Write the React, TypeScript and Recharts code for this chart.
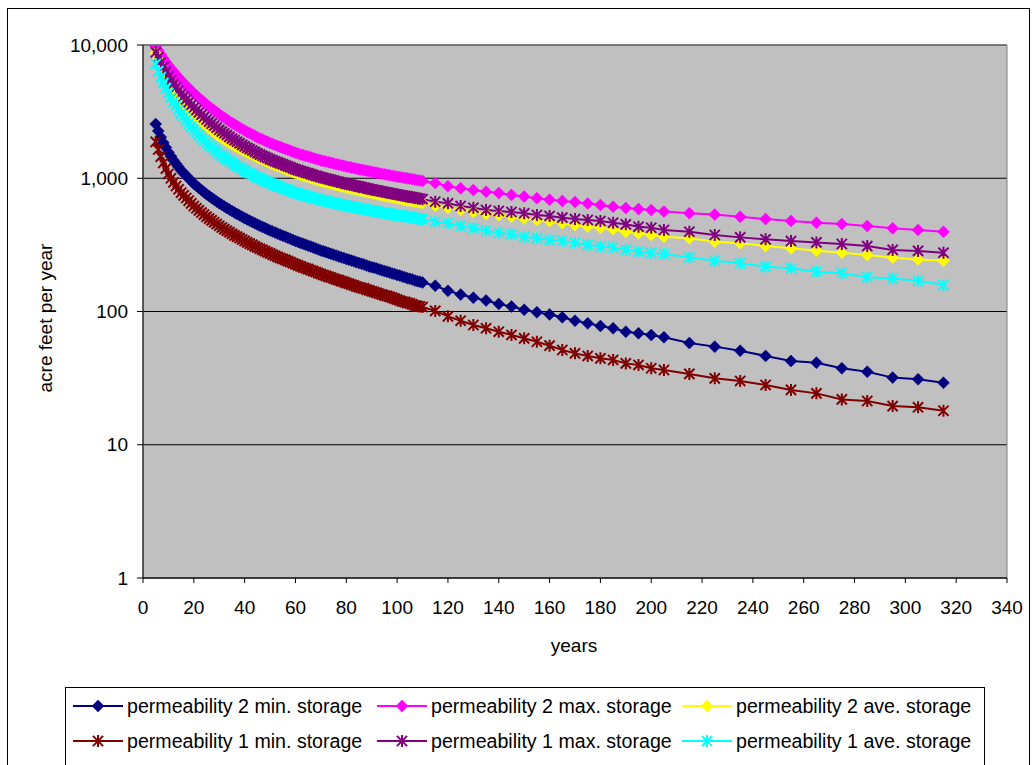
import React from 'react';
import { LineChart, Line, XAxis, YAxis, CartesianGrid, ReferenceArea } from 'recharts';

const FONT = '"Liberation Sans", Arial, sans-serif';

// years: yearly to 110, then every 5 to 205, then every 10
const years = [
  5, 6, 7, 8, 9, 10, 11, 12, 13, 14, 15, 16, 17, 18, 19, 20, 21, 22, 23, 24,
  25, 26, 27, 28, 29, 30, 31, 32, 33, 34, 35, 36, 37, 38, 39, 40, 41, 42, 43, 44,
  45, 46, 47, 48, 49, 50, 51, 52, 53, 54, 55, 56, 57, 58, 59, 60, 61, 62, 63, 64,
  65, 66, 67, 68, 69, 70, 71, 72, 73, 74, 75, 76, 77, 78, 79, 80, 81, 82, 83, 84,
  85, 86, 87, 88, 89, 90, 91, 92, 93, 94, 95, 96, 97, 98, 99, 100, 101, 102, 103, 104,
  105, 106, 107, 108, 109, 110,
  115, 120, 125, 130, 135, 140, 145, 150, 155, 160, 165, 170, 175, 180, 185, 190, 195, 200, 205,
  215, 225, 235, 245, 255, 265, 275, 285, 295, 305, 315,
];

const perm2Min = [
  2550, 2265, 2033, 1847, 1700, 1565, 1460, 1363, 1286, 1214,
  1145, 1094, 1045, 998, 953, 910, 877, 846, 815, 786,
  758, 735, 712, 691, 670, 649, 632, 615, 598, 583,
  567, 553, 540, 527, 514, 502, 491, 480, 470, 459,
  449, 440, 431, 423, 414, 406, 399, 391, 384, 377,
  370, 364, 357, 351, 344, 338, 333, 327, 322, 317,
  312, 307, 302, 297, 292, 287, 283, 279, 275, 271,
  267, 263, 259, 255, 252, 248, 245, 241, 238, 234,
  231, 228, 225, 221, 218, 215, 213, 210, 207, 204,
  201, 199, 196, 193, 191, 188, 186, 183, 181, 178,
  176, 174, 171, 169, 167, 165,
  156, 143, 134, 127, 121, 114, 109, 103, 98.6, 95, 90.4, 85.3, 81.5, 77.8, 74.8, 70.5, 68.6, 66.6, 64,
  58, 54.5, 50.8, 46.4, 42.5, 41.3, 37.5, 35.3, 31.9, 31, 29.2,
];

const perm2Max = [
  9800, 9100, 8490, 7940, 7470, 7030, 6660, 6310, 6000, 5700,
  5420, 5185, 4955, 4740, 4530, 4335, 4170, 4010, 3860, 3715,
  3570, 3450, 3340, 3230, 3125, 3020, 2930, 2845, 2760, 2680,
  2600, 2535, 2468, 2404, 2340, 2280, 2228, 2178, 2128, 2080,
  2030, 1991, 1950, 1914, 1875, 1835, 1806, 1775, 1746, 1718,
  1690, 1660, 1633, 1607, 1578, 1552, 1531, 1510, 1493, 1472,
  1455, 1435, 1416, 1396, 1380, 1361, 1346, 1334, 1318, 1306,
  1291, 1276, 1265, 1250, 1239, 1224, 1213, 1202, 1191, 1180,
  1169, 1159, 1148, 1138, 1127, 1117, 1107, 1099, 1089, 1081,
  1072, 1062, 1054, 1045, 1037, 1028, 1021, 1014, 1005, 998,
  991, 984, 977, 968, 962, 955,
  920, 870, 840, 815, 793, 775, 750, 728, 708, 690, 676, 662, 646, 630, 612, 597, 587, 577, 562,
  546, 534, 514, 494, 478, 464, 454, 438, 421, 409, 397,
];

const perm2Ave = [
  8690, 7780, 6985, 6285, 5740, 5250, 4875, 4530, 4250, 4000,
  3770, 3590, 3420, 3263, 3110, 2970, 2855, 2742, 2642, 2541,
  2445, 2362, 2289, 2213, 2143, 2070, 2012, 1957, 1902, 1849,
  1798, 1758, 1717, 1675, 1637, 1598, 1564, 1531, 1499, 1467,
  1433, 1405, 1377, 1352, 1326, 1296, 1278, 1254, 1233, 1212,
  1193, 1171, 1151, 1132, 1110, 1093, 1078, 1062, 1049, 1034,
  1021, 1005, 992, 978, 966, 953, 941, 932, 920, 912,
  901, 889, 882, 870, 863, 851, 843, 836, 827, 819,
  811, 804, 795, 788, 781, 772, 766, 759, 752, 746,
  739, 732, 726, 720, 713, 707, 701, 696, 690, 685,
  679, 674, 669, 662, 658, 653,
  622, 598, 578, 560, 540, 530, 514, 500, 486, 476, 460, 446, 433, 425, 414, 397, 386, 375, 364,
  354, 334, 325, 310, 298, 286, 276, 265, 253, 246, 240,
];

const perm1Min = [
  1875, 1642, 1454, 1302, 1182, 1077, 999, 930, 874, 826,
  779, 744, 711, 679, 648, 619, 595, 574, 553, 533,
  514, 498, 483, 468, 454, 440, 427, 415, 404, 394,
  383, 373, 365, 356, 347, 339, 330, 323, 316, 308,
  302, 296, 290, 284, 278, 273, 267, 262, 257, 252,
  248, 244, 239, 235, 230, 226, 222, 218, 214, 211,
  208, 204, 201, 198, 194, 191, 188, 185, 182, 180,
  177, 174, 172, 169, 167, 164, 162, 159, 157, 154,
  152, 150, 149, 146, 144, 142, 140, 138, 136, 134,
  132, 131, 129, 127, 125, 123, 121, 119, 118, 116,
  115, 113, 111, 110, 109, 108,
  101, 92, 85.3, 79.2, 74.8, 70.5, 66.7, 62.9, 59.3, 55.4, 51.4, 48.5, 46.4, 44.5, 43.3, 40.8, 39.7, 37.5, 36.4,
  34, 31.5, 30.1, 28.1, 25.8, 24.3, 21.9, 21.3, 19.5, 19.1, 18,
];

const perm1Max = [
  8820, 8100, 7430, 6830, 6310, 5835, 5460, 5110, 4830, 4560,
  4310, 4105, 3910, 3725, 3547, 3381, 3248, 3116, 2995, 2875,
  2760, 2660, 2572, 2481, 2397, 2310, 2241, 2174, 2109, 2045,
  1984, 1932, 1881, 1829, 1781, 1733, 1693, 1653, 1615, 1577,
  1539, 1507, 1476, 1447, 1418, 1385, 1364, 1338, 1316, 1294,
  1273, 1250, 1228, 1208, 1185, 1166, 1150, 1133, 1120, 1103,
  1090, 1073, 1059, 1044, 1031, 1017, 1004, 995, 982, 973,
  962, 949, 941, 929, 921, 908, 900, 892, 883, 874,
  865, 858, 848, 841, 833, 824, 817, 810, 803, 796,
  789, 781, 775, 768, 761, 755, 748, 743, 736, 731,
  725, 719, 714, 707, 702, 697,
  667, 648, 619, 601, 578, 568, 558, 546, 530, 521, 506, 494, 486, 478, 464, 451, 433, 425, 409,
  397, 375, 360, 348, 338, 330, 321, 310, 290, 285, 276,
];

const perm1Ave = [
  7200, 6370, 5730, 5200, 4745, 4345, 4030, 3740, 3500, 3270,
  3068, 2893, 2730, 2583, 2442, 2315, 2210, 2109, 2015, 1928,
  1842, 1770, 1707, 1644, 1584, 1525, 1477, 1431, 1386, 1343,
  1300, 1268, 1234, 1202, 1170, 1140, 1114, 1089, 1064, 1040,
  1015, 996, 975, 957, 938, 918, 903, 888, 873, 859,
  845, 830, 817, 804, 789, 776, 767, 757, 749, 739,
  730, 722, 712, 702, 696, 686, 678, 674, 666, 660,
  653, 646, 640, 634, 628, 621, 616, 611, 605, 601,
  595, 590, 585, 580, 575, 571, 566, 562, 558, 553,
  549, 545, 541, 536, 533, 528, 525, 521, 518, 514,
  510, 507, 503, 499, 495, 492,
  472, 459, 438, 421, 404, 390, 380, 364, 354, 344, 338, 328, 316, 307, 302, 290, 281, 274, 270,
  255, 240, 230, 217, 211, 199, 194, 181, 177, 170, 158,
];

const xTicks = [0, 20, 40, 60, 80, 100, 120, 140, 160, 180, 200, 220, 240, 260, 280, 300, 320, 340];
const yTicks = [1, 10, 100, 1000, 10000];

type Marker = 'diamond' | 'star';

const series: { key: string; name: string; color: string; marker: Marker; values: number[] }[] = [
  { key: 'p2min', name: 'permeability 2 min. storage', color: '#000080', marker: 'diamond', values: perm2Min },
  { key: 'p2max', name: 'permeability 2 max. storage', color: '#FF00FF', marker: 'diamond', values: perm2Max },
  { key: 'p2ave', name: 'permeability 2 ave. storage', color: '#FFFF00', marker: 'diamond', values: perm2Ave },
  { key: 'p1min', name: 'permeability 1 min. storage', color: '#800000', marker: 'star', values: perm1Min },
  { key: 'p1max', name: 'permeability 1 max. storage', color: '#800080', marker: 'star', values: perm1Max },
  { key: 'p1ave', name: 'permeability 1 ave. storage', color: '#00FFFF', marker: 'star', values: perm1Ave },
];

const data = years.map((year, i) => {
  const row: Record<string, number> = { year };
  series.forEach(s => {
    row[s.key] = s.values[i];
  });
  return row;
});

const R = 6;

function markerShape(marker: Marker, color: string, cx: number, cy: number, key?: string | number) {
  if (marker === 'diamond') {
    return (
      <path
        key={key}
        d={`M${cx},${cy - R}L${cx + R},${cy}L${cx},${cy + R}L${cx - R},${cy}Z`}
        fill={color}
        stroke={color}
        strokeWidth={0.5}
      />
    );
  }
  const d = R * 0.85;
  return (
    <path
      key={key}
      d={`M${cx},${cy - R}L${cx},${cy + R}M${cx - d},${cy - d}L${cx + d},${cy + d}M${cx - d},${cy + d}L${cx + d},${cy - d}`}
      stroke={color}
      strokeWidth={2}
      fill="none"
    />
  );
}

const makeDot = (marker: Marker, color: string) => (props: any) => {
  const { cx, cy, index } = props;
  if (cx == null || cy == null) return <g key={`d-${index}`} />;
  return markerShape(marker, color, cx, cy, `d-${index}`);
};

const fmt = (v: number) => v.toLocaleString('en-US');

const legendCols = [73, 377, 682];
const legendRows = [706, 741];

export default function App() {
  return (
    <div
      style={{
        position: 'absolute',
        left: 0,
        top: 0,
        width: 1032,
        height: 765,
        overflow: 'hidden',
        background: '#fff',
        fontFamily: FONT,
      }}
    >
      <div
        style={{
          position: 'absolute',
          left: 7,
          top: 8,
          width: 1023,
          height: 800,
          border: '1px solid #000',
          boxSizing: 'border-box',
        }}
      />
      <div style={{ position: 'absolute', left: 0, top: 0 }}>
        <LineChart width={1032} height={640} data={data} margin={{ top: 45, right: 25, bottom: 22, left: 73 }}>
          <CartesianGrid vertical={false} stroke="#000" fill="#C0C0C0" />
          <ReferenceArea x1={0} x2={340} y1={1} y2={10000} fill="none" stroke="#808080" strokeWidth={1} />
          <XAxis
            type="number"
            dataKey="year"
            domain={[0, 340]}
            ticks={xTicks}
            interval={0}
            height={40}
            tickSize={5}
            tickMargin={18}
            axisLine={{ stroke: '#000' }}
            tickLine={{ stroke: '#000' }}
            tick={{ fill: '#000', fontSize: 19, fontFamily: FONT }}
          />
          <YAxis
            scale="log"
            domain={[1, 10000]}
            ticks={yTicks}
            allowDataOverflow
            interval={0}
            width={70}
            tickSize={6}
            tickMargin={9}
            tickFormatter={fmt}
            axisLine={{ stroke: '#000' }}
            tickLine={{ stroke: '#000' }}
            tick={{ fill: '#000', fontSize: 19, fontFamily: FONT }}
          />
          {series.map(s => (
            <Line
              key={s.key}
              type="linear"
              dataKey={s.key}
              name={s.name}
              stroke={s.color}
              strokeWidth={2}
              dot={makeDot(s.marker, s.color)}
              activeDot={false}
              isAnimationActive={false}
            />
          ))}
        </LineChart>
      </div>

      <div
        style={{
          position: 'absolute',
          left: 46 - 120,
          top: 318 - 11,
          width: 240,
          height: 22,
          lineHeight: '22px',
          fontSize: 19,
          textAlign: 'center',
          transform: 'rotate(-90deg)',
          color: '#000',
        }}
      >
        acre feet per year
      </div>
      <div
        style={{
          position: 'absolute',
          left: 574 - 100,
          top: 646 - 11,
          width: 200,
          lineHeight: '22px',
          fontSize: 19,
          textAlign: 'center',
          color: '#000',
        }}
      >
        years
      </div>

      <div
        style={{
          position: 'absolute',
          left: 65,
          top: 687,
          width: 920,
          height: 90,
          border: '1px solid #000',
          boxSizing: 'border-box',
          background: '#fff',
        }}
      />
      {series.map((s, i) => {
        const x = legendCols[i % 3];
        const y = legendRows[Math.floor(i / 3)];
        return (
          <div key={s.key} style={{ position: 'absolute', left: x, top: y - 11, height: 22, whiteSpace: 'nowrap' }}>
            <svg width={52} height={22} style={{ position: 'absolute', left: 0, top: 0 }}>
              <line x1={0} y1={11} x2={50} y2={11} stroke={s.color} strokeWidth={2} />
              {markerShape(s.marker, s.color, 25, 11)}
            </svg>
            <span
              style={{
                position: 'absolute',
                left: 54,
                top: 0,
                lineHeight: '22px',
                fontSize: 19.6,
                color: '#000',
              }}
            >
              {s.name}
            </span>
          </div>
        );
      })}
    </div>
  );
}
